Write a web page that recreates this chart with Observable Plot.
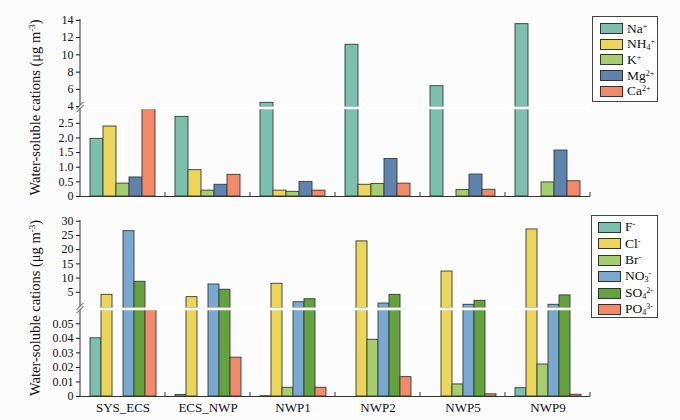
<!DOCTYPE html>
<html>
<head>
<meta charset="utf-8">
<script src="https://cdn.jsdelivr.net/npm/d3@7"></script>
<script src="https://cdn.jsdelivr.net/npm/@observablehq/plot@0.6"></script>
<style>
  body { margin: 0; background: #fcfcfc; }
  #wrap { position: relative; width: 680px; height: 420px; font-family: "Liberation Serif", "Times New Roman", Times, serif; overflow: hidden; }
  #wrap > svg { display: block; }
  .legend { position: absolute; border: 1px solid #444; background: #fff; box-sizing: border-box; }
  .row { display: flex; align-items: center; font-size: 13.5px; line-height: 14px; color: #111; }
  .sw { width: 21px; height: 9px; border: 1px solid #333; margin-right: 4px; flex: none; }
  .lab { white-space: nowrap; }
  .lab sup, .lab sub { font-size: 8px; line-height: 8px; }
  .lab sup { vertical-align: 4px; }
  .lab sub { vertical-align: -2px; }
</style>
</head>
<body>
<div id="wrap"></div>
<script>
// ---------- data ----------
const sites = ["SYS_ECS", "ECS_NWP", "NWP1", "NWP2", "NWP5", "NWP9"];

const cations = ["Na+", "NH4+", "K+", "Mg2+", "Ca2+"];
const cationLabels = ["Na<sup>+</sup>", "NH<sub>4</sub><sup>+</sup>", "K<sup>+</sup>", "Mg<sup>2+</sup>", "Ca<sup>2+</sup>"];
const cationColors = ["#7dbfad", "#ebd55b", "#a5cf6e", "#5e84ad", "#ef8b6b"];
const na  = [1.97, 2.72, 4.44, 11.17, 6.37, 13.56];
const nh4 = [2.39, 0.90, 0.20, 0.40, 0, 0];
const kk  = [0.44, 0.20, 0.16, 0.43, 0.22, 0.48];
const mg  = [0.65, 0.40, 0.50, 1.28, 0.75, 1.57];
const ca  = [2.98, 0.74, 0.20, 0.44, 0.23, 0.52];

const anions = ["F-", "Cl-", "Br-", "NO3-", "SO42-", "PO43-"];
const anionLabels = ["F<sup>-</sup>", "Cl<sup>-</sup>", "Br<sup>-</sup>", "NO<sub>3</sub><sup>-</sup>", "SO<sub>4</sub><sup>2-</sup>", "PO<sub>4</sub><sup>3-</sup>"];
const anionColors = ["#7dbfad", "#ebd55b", "#a5cf6e", "#7aa9d0", "#64a23f", "#ef8b6b"];
const ff  = [0.040, 0.001, 0.0002, 0, 0, 0.0057];
const cl  = [4.1, 3.3, 8.0, 22.9, 12.3, 27.1];
const br  = [0, 0, 0.006, 0.039, 0.0083, 0.022];
const no3 = [26.5, 7.75, 1.5, 1.05, 0.6, 0.6];
const so4 = [8.7, 5.9, 2.55, 4.1, 2.0, 3.9];
const po4 = [0.060, 0.0267, 0.006, 0.0133, 0.0015, 0.0012];

const catUpperTicks = [4, 6, 8, 10, 12, 14];
const catLowerTicks = [0, 0.5, 1.0, 1.5, 2.0, 2.5];
const anUpperTicks = [5, 10, 15, 20, 25, 30];
const anLowerTicks = [0, 0.01, 0.02, 0.03, 0.04, 0.05];

const yTitle = "Water-soluble cations (μg m";

// ---------- tables ----------
const cationSeries = [na, nh4, kk, mg, ca];
const anionSeries = [ff, cl, br, no3, so4, po4];
const cationData = sites.flatMap((s, i) => cations.map((c, j) => ({site: s, ion: c, value: cationSeries[j][i]})));
const anionData = sites.flatMap((s, i) => anions.map((c, j) => ({site: s, ion: c, value: anionSeries[j][i]})));

const FONT = '"Liberation Serif", "Times New Roman", Times, serif';
const ML = 80, MR = 90, W = 680;
const panels = {
  cat: {data: cationData, ions: cations, colors: cationColors, lowerMax: 3.04, pad: 0.6},
  an:  {data: anionData, ions: anions, colors: anionColors, lowerMax: 0.0605, pad: 0.7}
};
const segs = [
  {panel: "cat", upper: true,  domain: [3.9, 14.1], ticks: catUpperTicks, fmt: d => String(d), height: 107, mt: 19, mb: 0},
  {panel: "cat", upper: false, domain: [0, 3.04], ticks: catLowerTicks, fmt: d => d === 0 ? "0" : d.toFixed(1), height: 105, mt: 0, mb: 16},
  {panel: "an",  upper: true,  domain: [-0.7, 30.25], ticks: anUpperTicks, fmt: d => String(d), height: 96, mt: 8, mb: 0},
  {panel: "an",  upper: false, domain: [0, 0.0605], ticks: anLowerTicks, fmt: d => d === 0 ? "0" : d.toFixed(2), height: 112, mt: 0, mb: 24, showX: true}
];

const wrap = document.getElementById("wrap");
let offset = 0;
const info = [];
for (const s of segs) {
  const p = panels[s.panel];
  const marks = [];
  if (s.upper) {
    // bars that cross the break continue here; the others get zero height
    marks.push(Plot.barY(p.data, {
      fx: "site", x: "ion", y1: s.domain[0],
      y2: d => d.value > p.lowerMax ? d.value : s.domain[0],
      fill: "ion", stroke: "#3a3a3a", strokeWidth: 0.9, clip: true
    }));
  } else {
    marks.push(Plot.barY(p.data, {
      fx: "site", x: "ion", y: "value", fill: "ion",
      stroke: "#3a3a3a", strokeWidth: 0.9, clip: true
    }));
    marks.push(Plot.ruleY([s.domain[1]], {stroke: "#ffffff", strokeWidth: 2.6, dy: 0.4}));
    marks.push(Plot.ruleY([0], {stroke: "#333", strokeWidth: 1}));
  }
  marks.push(Plot.axisY({ticks: s.ticks, tickFormat: s.fmt, tickSize: 4, tickPadding: 3, fontSize: 12, label: null}));
  if (s.showX) marks.push(Plot.axisFx({anchor: "bottom", tickSize: 0, tickPadding: 6, fontSize: 13, label: null}));
  const chart = Plot.plot({
    width: W, height: s.height,
    marginLeft: ML, marginRight: MR, marginTop: s.mt, marginBottom: s.mb,
    style: {fontFamily: FONT, fontSize: "12px", background: "transparent", overflow: "visible", color: "#111"},
    fx: Object.assign({domain: sites, padding: 0}, s.showX ? {} : {axis: null}),
    x: {domain: p.ions, paddingInner: 0, paddingOuter: p.pad, axis: null},
    y: {domain: s.domain, axis: null},
    color: {domain: p.ions, range: p.colors},
    marks
  });
  wrap.appendChild(chart);
  info.push({top: offset + s.mt, bottom: offset + s.height - s.mb, chart});
  offset += s.height;
}

// ---------- overlay: axis lines, break marks, titles ----------
const ov = d3.select(wrap).append("svg")
  .attr("width", W).attr("height", 420)
  .style("position", "absolute").style("left", 0).style("top", 0)
  .style("pointer-events", "none").style("overflow", "visible");

function panelDecor(up, low) {
  const x = ML;
  ov.append("line").attr("x1", x).attr("x2", x).attr("y1", up.top).attr("y2", low.bottom)
    .attr("stroke", "#333").attr("stroke-width", 1);
  const fx = low.chart.scale("fx");
  sites.forEach(s => {
    const xr = fx.apply(s) + fx.bandwidth;
    ov.append("line").attr("x1", xr).attr("x2", xr).attr("y1", low.bottom).attr("y2", low.bottom - 4)
      .attr("stroke", "#333").attr("stroke-width", 1);
  });
  const y = low.top;
  ov.append("line").attr("x1", x - 3.5).attr("y1", y + 3.5).attr("x2", x + 3.5).attr("y2", y - 3.5)
    .attr("stroke", "#fcfcfc").attr("stroke-width", 2.4);
  [-1.6, 1.6].forEach(o => {
    ov.append("line").attr("x1", x - 3.5).attr("y1", y + 3.5 + o).attr("x2", x + 3.5).attr("y2", y - 3.5 + o)
      .attr("stroke", "#333").attr("stroke-width", 0.9);
  });
  const cy = (up.top + low.bottom) / 2;
  const t = ov.append("text").attr("transform", `translate(35,${cy}) rotate(-90)`)
    .attr("text-anchor", "middle").attr("dy", "0.35em")
    .style("font-family", FONT).style("font-size", "14.5px").attr("fill", "#111");
  t.append("tspan").text(yTitle);
  t.append("tspan").attr("dy", -5).style("font-size", "9px").text("-3");
  t.append("tspan").attr("dy", 5).text(")");
}
panelDecor(info[0], info[1]);
panelDecor(info[2], info[3]);

// ---------- legends ----------
function legend(labels, colors, left, top, w, h, rowH, padT, padL) {
  const div = document.createElement("div");
  div.className = "legend";
  Object.assign(div.style, {left: left + "px", top: top + "px", width: w + "px", height: h + "px", paddingTop: padT + "px", paddingLeft: padL + "px"});
  labels.forEach((lab, i) => {
    const r = document.createElement("div");
    r.className = "row"; r.style.height = rowH + "px";
    r.innerHTML = `<span class="sw" style="background:${colors[i]}"></span><span class="lab">${lab}</span>`;
    div.appendChild(r);
  });
  wrap.appendChild(div);
}
legend(cationLabels, cationColors, 592, 16, 66, 86, 15.6, 4, 7);
legend(anionLabels, anionColors, 591, 215, 67, 103, 16.5, 3, 6);
</script>
</body>
</html>
